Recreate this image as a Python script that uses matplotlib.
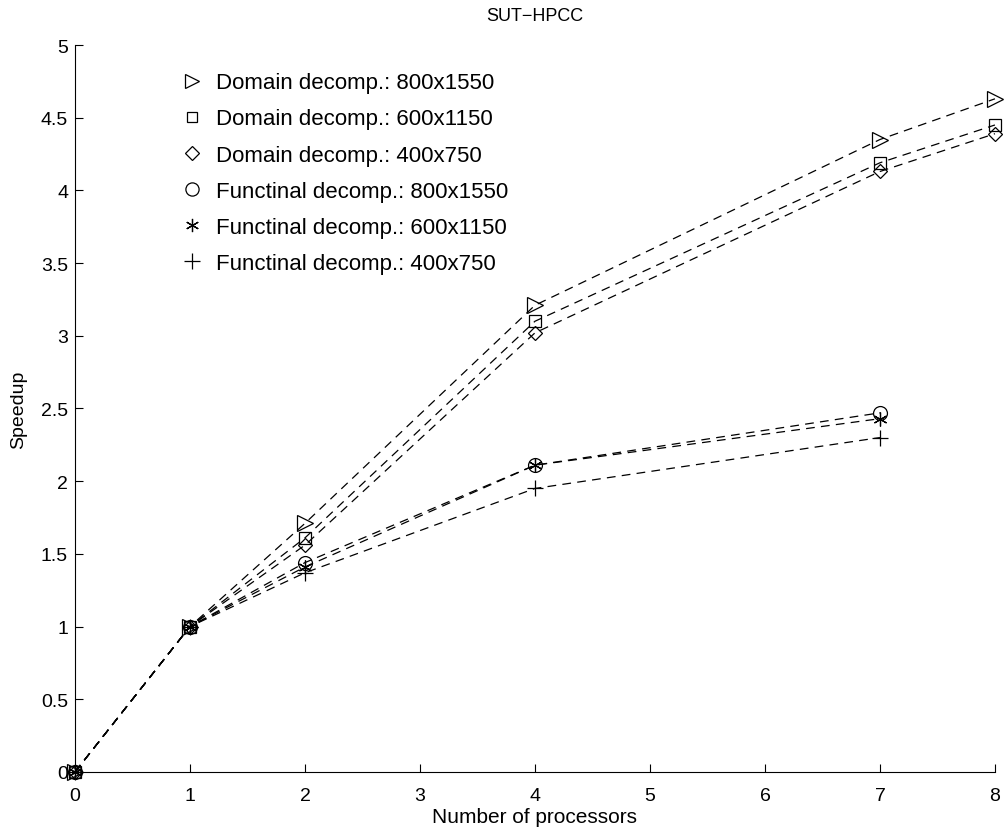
import matplotlib
matplotlib.use("Agg")
import matplotlib.pyplot as plt

# ---------------- DATA ----------------
procs_domain = [0, 1, 2, 4, 7, 8]
procs_func = [0, 1, 2, 4, 7]

dom_800 = [0, 1, 1.71, 3.21, 4.35, 4.63]
dom_600 = [0, 1, 1.61, 3.10, 4.19, 4.45]
dom_400 = [0, 1, 1.56, 3.02, 4.13, 4.39]
fun_800 = [0, 1, 1.44, 2.11, 2.47]
fun_600 = [0, 1, 1.41, 2.11, 2.43]
fun_400 = [0, 1, 1.37, 1.95, 2.30]

labels = [
    "Domain decomp.: 800x1550",
    "Domain decomp.: 600x1150",
    "Domain decomp.: 400x750",
    "Functinal decomp.: 800x1550",
    "Functinal decomp.: 600x1150",
    "Functinal decomp.: 400x750",
]

plt.rcParams["font.family"] = ["Liberation Sans", "DejaVu Sans"]

# ---------------- PLOT ----------------
fig = plt.figure(figsize=(10.05, 8.29), dpi=100)
ax = fig.add_axes([0.0746, 0.0676, 0.9154, 0.8769])

series = [
    (procs_domain, dom_800, ">", 11),
    (procs_domain, dom_600, "s", 8),
    (procs_domain, dom_400, "D", 7),
    (procs_func, fun_800, "o", 10),
    (procs_func, fun_600, (6, 2, 0), 10),
    (procs_func, fun_400, "+", 12),
]

for (x, y, m, ms), lab in zip(series, labels):
    ax.plot(x, y, linestyle=(0, (7, 5)), color="black", linewidth=0.9,
            marker=m, markersize=ms, markerfacecolor="none",
            markeredgecolor="black", markeredgewidth=0.9, label=lab,
            clip_on=False)

ax.set_xlim(0, 8)
ax.set_ylim(0, 5)
ax.set_xticks([0, 1, 2, 3, 4, 5, 6, 7, 8])
ax.set_yticks([0, 0.5, 1, 1.5, 2, 2.5, 3, 3.5, 4, 4.5, 5])
ax.set_yticklabels(["0", "0.5", "1", "1.5", "2", "2.5", "3", "3.5", "4", "4.5", "5"])
ax.tick_params(direction="in", length=6, labelsize=14, width=0.8)
ax.tick_params(axis="x", pad=11)
ax.tick_params(axis="y", pad=5)
ax.spines["top"].set_visible(False)
ax.spines["right"].set_visible(False)

ax.set_xlabel("Number of processors", fontsize=15, labelpad=2)
ax.set_ylabel("Speedup", fontsize=14, labelpad=10)
ax.set_title("SUT\u2212HPCC", fontsize=13, pad=18)

leg = ax.legend(loc="upper left", bbox_to_anchor=(0.105, 0.99), frameon=False,
                fontsize=16, handlelength=0, handletextpad=1.1,
                labelspacing=0.68, markerscale=0.95)
for h in leg.legend_handles:
    h.set_linestyle("none")

fig.savefig("out.png", dpi=100)
